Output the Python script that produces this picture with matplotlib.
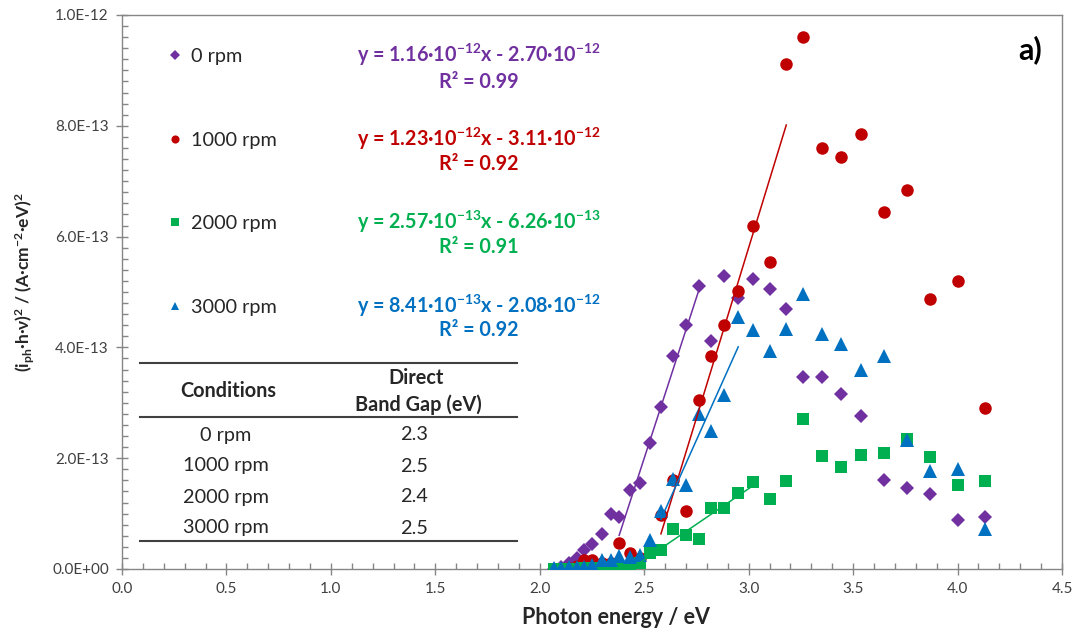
import numpy as np
import matplotlib
matplotlib.use("Agg")
import matplotlib.pyplot as plt
from matplotlib.ticker import MultipleLocator, FuncFormatter
from matplotlib.lines import Line2D

plt.rcParams['font.family'] = ['Lato', 'DejaVu Sans']
plt.rcParams['mathtext.default'] = 'regular'

# Photon energy (eV) of each measurement
energy = [2.07, 2.10, 2.14, 2.18, 2.21, 2.25, 2.30, 2.34, 2.38, 2.43, 2.48,
          2.53, 2.58, 2.64, 2.70, 2.76, 2.82, 2.88, 2.95, 3.02, 3.10, 3.18,
          3.26, 3.35, 3.44, 3.54, 3.65, 3.76, 3.87, 4.00, 4.13]

# (i_ph*h*v)^2 in units of 1e-13 (A cm-2 eV)^2
rpm0 = [0.00, 0.04, 0.10, 0.19, 0.34, 0.46, 0.63, 1.00, 0.93, 1.43, 1.55,
        2.27, 2.93, 3.84, 4.40, 5.11, 4.12, 5.29, 4.89, 5.23, 5.05, 4.69,
        3.46, 3.46, 3.16, 2.76, 1.61, 1.47, 1.36, 0.88, 0.94]
rpm1000 = [0.00, 0.00, 0.02, 0.05, 0.16, 0.16, 0.10, 0.10, 0.47, 0.29, 0.20,
           0.30, 0.97, 1.60, 1.04, 3.05, 3.84, 4.40, 5.02, 6.19, 5.55, 9.12,
           9.60, 7.60, 7.43, 7.85, 6.44, 6.84, 4.88, 5.19, 2.91]
rpm2000 = [0.00, 0.00, 0.00, 0.00, 0.01, 0.01, 0.01, 0.03, 0.04, 0.02, 0.10,
           0.28, 0.34, 0.73, 0.61, 0.55, 1.11, 1.10, 1.38, 1.57, 1.26, 1.58,
           2.71, 2.04, 1.84, 2.06, 2.09, 2.35, 2.03, 1.52, 1.58]
rpm3000 = [0.02, 0.02, 0.03, 0.04, 0.04, 0.07, 0.16, 0.17, 0.23, 0.21, 0.25,
           0.52, 1.05, 1.63, 1.52, 2.80, 2.49, 3.14, 4.54, 4.31, 3.93, 4.34,
           4.96, 4.24, 4.06, 3.59, 3.84, 2.33, 1.76, 1.80, 0.73]

labels = ['0 rpm', '1000 rpm', '2000 rpm', '3000 rpm']
colors = ['#7030A0', '#C00000', '#00B050', '#0070C0']
markers = ['D', 'o', 's', '^']
msizes = [7.2, 9.0, 8.0, 9.5]

# linear fits (slope, intercept) and fitted energy range
slopes = [1.16e-12, 1.23e-12, 2.57e-13, 8.41e-13]
intercepts = [-2.70e-12, -3.11e-12, -6.26e-13, -2.08e-12]
fit_ranges = [(2.38, 2.76), (2.58, 3.18), (2.48, 3.02), (2.58, 2.95)]
eq_texts = ['y = 1.16·10$^{-12}$x - 2.70·10$^{-12}$',
            'y = 1.23·10$^{-12}$x - 3.11·10$^{-12}$',
            'y = 2.57·10$^{-13}$x - 6.26·10$^{-13}$',
            'y = 8.41·10$^{-13}$x - 2.08·10$^{-12}$']
r2_texts = ['R² = 0.99', 'R² = 0.92', 'R² = 0.91', 'R² = 0.92']

# band gap table
conditions = ['0 rpm', '1000 rpm', '2000 rpm', '3000 rpm']
band_gaps = ['2.3', '2.5', '2.4', '2.5']

series = [rpm0, rpm1000, rpm2000, rpm3000]

fig = plt.figure(figsize=(10.78, 6.37), dpi=100)
ax = fig.add_axes([122 / 1078, 1 - 569 / 637, 940 / 1078, 554 / 637])

for vals, c, m, ms in zip(series, colors, markers, msizes):
    ax.plot(energy, np.array(vals) * 1e-13, linestyle='None', marker=m,
            markersize=ms, color=c, markeredgewidth=0, zorder=3)

for sl, ic, (x0, x1), c in zip(slopes, intercepts, fit_ranges, colors):
    xs = np.array([x0, x1])
    ax.plot(xs, sl * xs + ic, color=c, linewidth=1.1, zorder=4)

ax.set_xlim(0, 4.5)
ax.set_ylim(0, 1e-12)
ax.set_xticks(np.arange(0, 4.51, 0.5))
ax.set_yticks(np.arange(0, 1.01e-12, 2e-13))
ax.xaxis.set_minor_locator(MultipleLocator(0.1))
ax.yaxis.set_minor_locator(MultipleLocator(2e-14))
ax.xaxis.set_major_formatter(FuncFormatter(lambda v, p: f'{v:.1f}'))
ax.yaxis.set_major_formatter(FuncFormatter(lambda v, p: f'{v:.1E}'))

gray = '#868686'
for sp in ax.spines.values():
    sp.set_color(gray)
    sp.set_linewidth(1.0)
ax.tick_params(which='major', direction='inout', length=9, width=1,
               color=gray, labelsize=11, labelcolor='#404040', pad=5)
ax.tick_params(which='minor', direction='in', length=4, width=1, color=gray)
ax.tick_params(top=False, right=False, which='both')

ax.set_xlabel('Photon energy / eV', fontsize=15.5, fontweight='bold',
              color='#262626')
ax.set_ylabel('(i$_{ph}$·h·ν)$^{2}$ / (A·cm$^{-2}$·eV)$^{2}$', fontsize=12.5,
              fontweight='bold', color='#262626')
ax.xaxis.set_label_coords((616 - 122) / 940, (569 - 607) / 554)
ax.yaxis.set_label_coords((37 - 122) / 940, (569 - 282) / 554)

# legend
handles = [Line2D([], [], linestyle='None', marker=m, color=c,
                  markeredgewidth=0, markersize=ms * 0.65)
           for m, c, ms in zip(markers, colors, msizes)]
ax.legend(handles, labels, loc='upper left',
          bbox_to_anchor=((169 - 122) / 940, (569 - 48) / 554),
          frameon=False, fontsize=14.3, labelspacing=3.35, handlelength=0.6,
          handletextpad=0.5, borderpad=0, borderaxespad=0,
          labelcolor='#262626')

# fit equations
eq_rows = [55, 139, 222, 306]
r2_rows = [82, 164, 247, 330]
for eq, r2, y1, y2, c in zip(eq_texts, r2_texts, eq_rows, r2_rows, colors):
    ax.text((479 - 122) / 940, (569 - y1) / 554, eq, transform=ax.transAxes,
            ha='center', va='center', fontsize=14.2, fontweight='bold', color=c)
    ax.text((479 - 122) / 940, (569 - y2) / 554, r2, transform=ax.transAxes,
            ha='center', va='center', fontsize=14.2, fontweight='bold', color=c)


# band gap table
def fx(px):
    return (px - 122) / 940


def fy(py):
    return (569 - py) / 554


for py in [363, 417, 541]:
    ax.plot([fx(140), fx(517)], [fy(py), fy(py)], transform=ax.transAxes,
            color='#404040', linewidth=1.5, clip_on=False)
ax.text(fx(228), fy(391), 'Conditions', transform=ax.transAxes, ha='center',
        va='center', fontsize=14.3, fontweight='bold', color='#262626')
ax.text(fx(416), fy(378), 'Direct', transform=ax.transAxes, ha='center',
        va='center', fontsize=14.3, fontweight='bold', color='#262626')
ax.text(fx(418), fy(405), 'Band Gap (eV)', transform=ax.transAxes,
        ha='center', va='center', fontsize=14.3, fontweight='bold',
        color='#262626')
for i, (cond, bg) in enumerate(zip(conditions, band_gaps)):
    yy = fy(435 + i * 31)
    ax.text(fx(226), yy, cond, transform=ax.transAxes, ha='center',
            va='center', fontsize=14.3, color='#262626')
    ax.text(fx(414), yy, bg, transform=ax.transAxes, ha='center',
            va='center', fontsize=14.3, color='#262626')

ax.text(fx(1030), fy(50), 'a)', transform=ax.transAxes, ha='center',
        va='center', fontsize=22, fontweight='bold', color='#000000')

fig.savefig('out.png', dpi=100)
